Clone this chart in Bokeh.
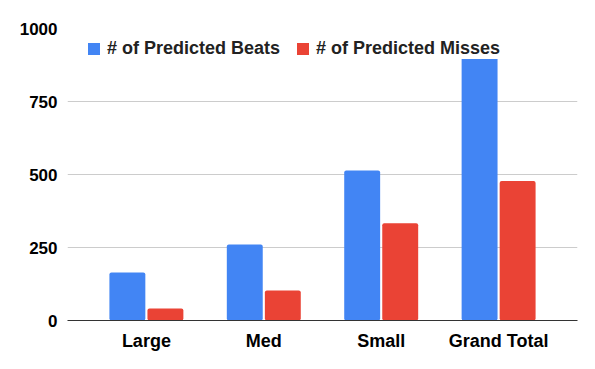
from bokeh.plotting import figure
from bokeh.models import ColumnDataSource, FactorRange, FixedTicker, Legend, LegendItem
from bokeh.transform import dodge
from bokeh.embed import file_html
from bokeh.resources import INLINE

categories = ["Large", "Med", "Small", "Grand Total"]
beats = [164, 260, 514, 938]
misses = [41, 103, 333, 478]
y_ticks = [0, 250, 500, 750, 1000]

src = ColumnDataSource(dict(cat=categories, beats=beats, misses=misses))

p = figure(x_range=FactorRange(factors=categories, range_padding=0.172, range_padding_units="absolute"),
           y_range=(0, 1000), width=587, height=361, output_backend="svg", toolbar_location=None,
           min_border_left=67, min_border_right=10, min_border_top=28, min_border_bottom=41)
p.outline_line_color = None
p.background_fill_color = "white"

r1 = p.vbar(x=dodge("cat", -0.162, range=p.x_range), top="beats", width=0.306, source=src,
            color="#4285F4", line_color=None, border_radius=2)
r2 = p.vbar(x=dodge("cat", 0.162, range=p.x_range), top="misses", width=0.306, source=src,
            color="#EA4335", line_color=None, border_radius=2)

p.xgrid.grid_line_color = None
p.ygrid.grid_line_color = "#cccccc"
p.ygrid.ticker = FixedTicker(ticks=y_ticks)

p.yaxis.ticker = FixedTicker(ticks=y_ticks)
p.yaxis.axis_line_color = None
p.yaxis.major_tick_line_color = None
p.yaxis.minor_tick_line_color = None
p.yaxis.major_tick_out = 0
p.yaxis.major_label_standoff = 10
p.yaxis.major_label_text_font = "Liberation Sans"
p.yaxis.major_label_text_font_style = "bold"
p.yaxis.major_label_text_font_size = "17px"
p.yaxis.major_label_text_color = "#000000"

p.xaxis.axis_line_color = "#333333"
p.xaxis.axis_line_width = 1.2
p.xaxis.major_tick_line_color = None
p.xaxis.major_tick_out = 0
p.xaxis.major_label_standoff = 10
p.xaxis.major_label_text_font = "Liberation Sans"
p.xaxis.major_label_text_font_style = "bold"
p.xaxis.major_label_text_font_size = "18px"
p.xaxis.major_label_text_color = "#000000"

legend = Legend(items=[LegendItem(label="# of Predicted Beats", renderers=[r1]),
                       LegendItem(label="# of Predicted Misses", renderers=[r2])],
                orientation="horizontal", location=(19, 261), padding=0, margin=0,
                spacing=15, label_standoff=6, glyph_width=15, glyph_height=15,
                label_height=15, label_text_line_height=1.0,
                border_line_color=None, background_fill_alpha=1.0,
                label_text_font="Liberation Sans", label_text_font_style="bold",
                label_text_font_size="18px", label_text_color="#222222")
p.add_layout(legend, "center")

open("out.html", "w").write(file_html(p, INLINE))
